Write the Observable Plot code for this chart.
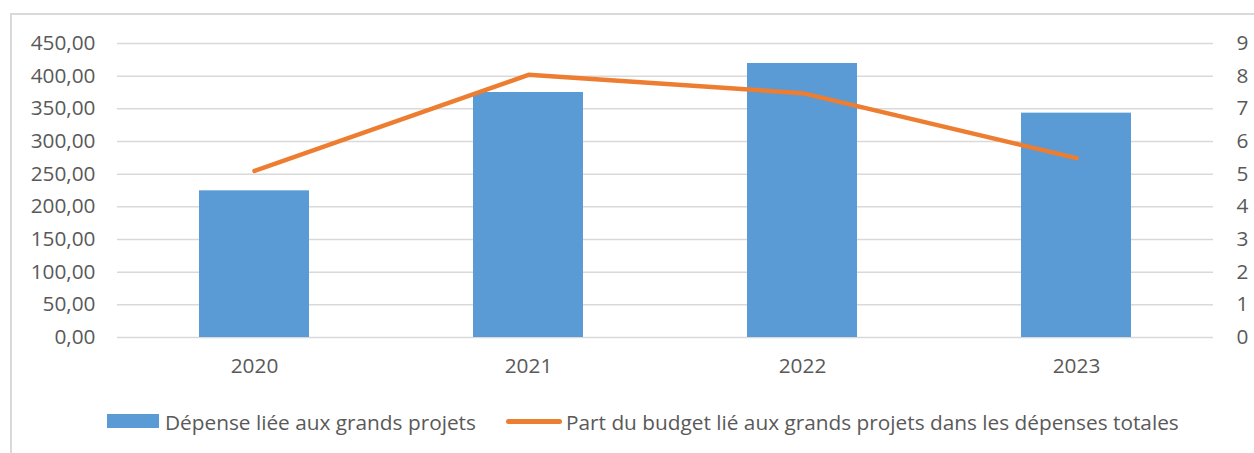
<!DOCTYPE html>
<html>
<head>
<meta charset="utf-8">
<script src="https://cdn.jsdelivr.net/npm/d3@7"></script>
<script src="https://cdn.jsdelivr.net/npm/@observablehq/plot@0.6"></script>
<style>
  html, body { margin: 0; padding: 0; background: #fff; }
  #wrap { position: relative; width: 1254px; height: 453px; overflow: hidden; font-family: "Open Sans", sans-serif; color: #595959; }
  #frame { position: absolute; left: 10px; top: 13px; width: 1400px; height: 600px; border: 2px solid #d9d9d9; box-sizing: border-box; }
  #chart { position: absolute; left: 0; top: 0; }
  .legend { position: absolute; top: 405px; left: 0; width: 1254px; height: 34px; font-size: 20.8px; }
  .item { position: absolute; top: 0; height: 34px; line-height: 34px; white-space: nowrap; }
  .sw { position: absolute; }
</style>
</head>
<body>
<div id="wrap">
  <div id="frame"></div>
  <div id="chart"></div>
  <div class="legend">
    <div class="sw" style="left:107px; top:9px; width:52px; height:14px; background:#5B9BD5;"></div>
    <div class="item" id="lg1" style="left:165px;"></div>
    <div class="sw" style="left:506px; top:13.5px; width:56px; height:5px; border-radius:3px; background:#ED7D31;"></div>
    <div class="item" id="lg2" style="left:566px;"></div>
  </div>
</div>
<script>
const years = ["2020", "2021", "2022", "2023"];
const depense = [224.5, 375, 419.4, 343.4];
const part = [5.10, 8.04, 7.48, 5.49];
const leftTicks = [0, 50, 100, 150, 200, 250, 300, 350, 400, 450];
const rightTicks = [0, 1, 2, 3, 4, 5, 6, 7, 8, 9];
const seriesNames = ["Dépense liée aux grands projets", "Part du budget lié aux grands projets dans les dépenses totales"];

const ratio = 450 / 9;
const data = years.map((y, i) => ({year: y, depense: depense[i], part: part[i]}));

const chart = Plot.plot({
  width: 1254,
  height: 395,
  marginLeft: 117,
  marginRight: 41,
  marginTop: 43,
  marginBottom: 58,
  style: {fontFamily: "Open Sans, sans-serif", fontSize: "20.8px", color: "#595959", background: "transparent", overflow: "visible"},
  x: {domain: years, paddingInner: 0.6, paddingOuter: 0.3, label: null},
  y: {domain: [0, 450], label: null},
  marks: [
    Plot.ruleY(leftTicks, {stroke: "#d9d9d9", strokeWidth: 1.5}),
    Plot.barY(data, {x: "year", y: "depense", fill: "#5B9BD5"}),
    Plot.line(data, {x: "year", y: d => d.part * ratio, stroke: "#ED7D31", strokeWidth: 4.5, strokeLinecap: "round", strokeLinejoin: "round"}),
    Plot.axisY({ticks: leftTicks, tickSize: 0, tickPadding: 22, tickFormat: d => d.toFixed(2).replace(".", ","), label: null, fill: "#595959"}),
    Plot.axisY({anchor: "right", ticks: rightTicks.map(v => v * ratio), tickSize: 0, tickPadding: 23, tickFormat: d => String(d / ratio), label: null, fill: "#595959", textAnchor: "start"}),
    Plot.axisX({tickSize: 0, tickPadding: 21, label: null, fill: "#595959"})
  ]
});
document.getElementById("chart").appendChild(chart);
document.getElementById("lg1").textContent = seriesNames[0];
document.getElementById("lg2").textContent = seriesNames[1];
</script>
</body>
</html>
